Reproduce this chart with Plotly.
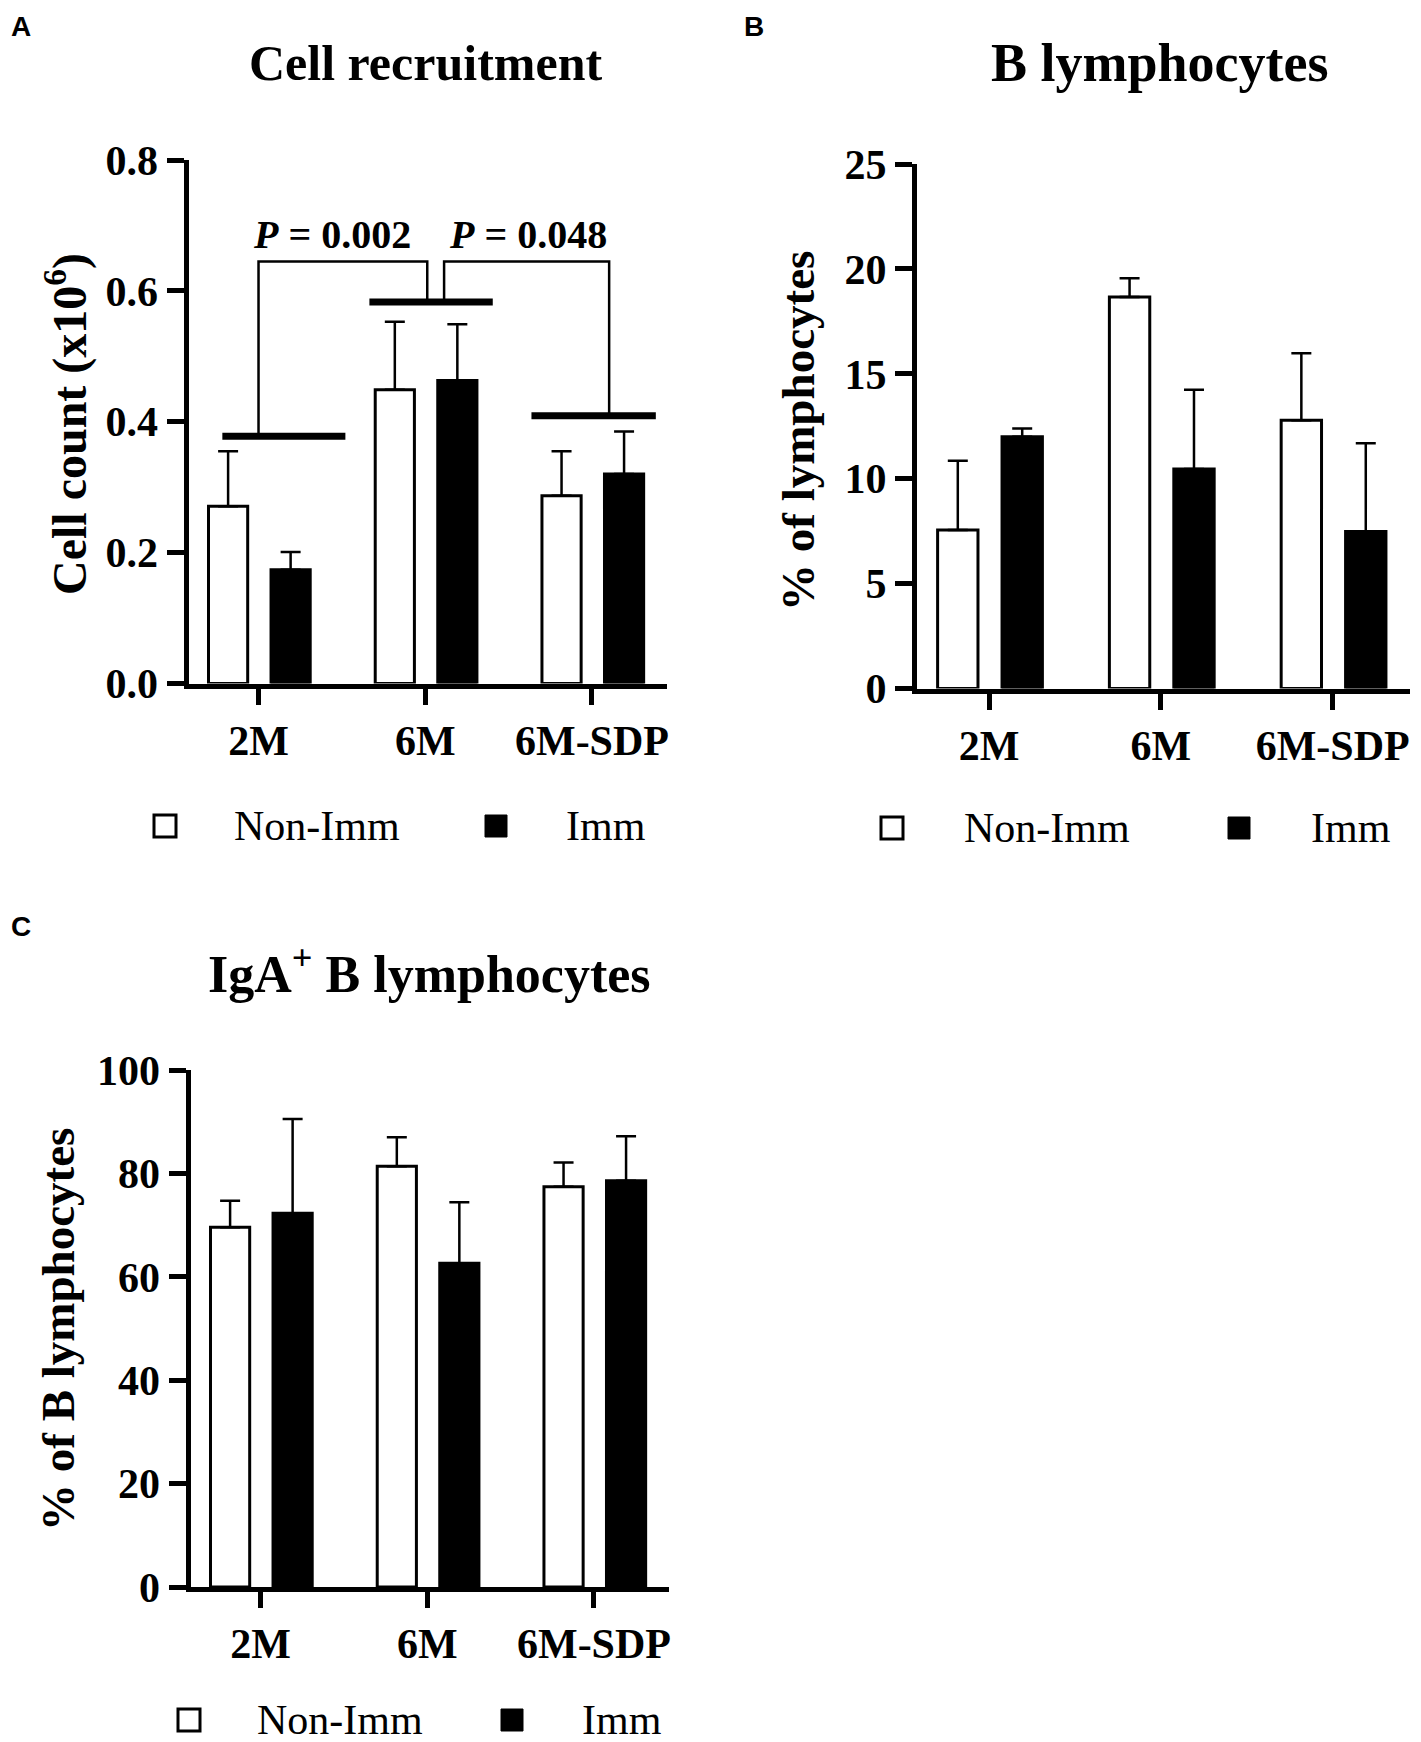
import plotly.graph_objects as go

# ---------------- data ----------------
categories = ["2M", "6M", "6M-SDP"]
series_names = ["Non-Imm", "Imm"]

# Panel A: Cell recruitment (x10^6)
a_non = [0.271, 0.449, 0.287]
a_non_err = [0.084, 0.104, 0.068]
a_imm = [0.174, 0.463, 0.320]
a_imm_err = [0.027, 0.086, 0.065]

# Panel B: B lymphocytes (% of lymphocytes)
b_non = [7.56, 18.66, 12.79]
b_non_err = [3.30, 0.89, 3.19]
b_imm = [12.0, 10.46, 7.48]
b_imm_err = [0.39, 3.78, 4.21]

# Panel C: IgA+ B lymphocytes (% of B lymphocytes)
c_non = [69.6, 81.4, 77.4]
c_non_err = [5.1, 5.6, 4.7]
c_imm = [72.3, 62.6, 78.6]
c_imm_err = [18.2, 11.8, 8.6]

a_ticks = [0, 0.2, 0.4, 0.6, 0.8]
b_ticks = [0, 5, 10, 15, 20, 25]
c_ticks = [0, 20, 40, 60, 80, 100]

p_labels = ["<i>P</i> = 0.002", "<i>P</i> = 0.048"]

# ---------------- layout helpers ----------------
# the page body adds an 8 px margin, so the figure is sized to fill the rest
OFF = 8
FW, FH = 1421 - OFF, 1742 - OFF
def px(x):
    return (x - OFF) / FW
def py(y):
    return 1 - (y - OFF) / FH

SERIF = "Liberation Serif"
BAR_W = 0.235
OFF_NON = -0.30
OFF_IMM = 0.075

fig = go.Figure()

panels = [
    ("x", "y", a_non, a_non_err, a_imm, a_imm_err),
    ("x2", "y2", b_non, b_non_err, b_imm, b_imm_err),
    ("x3", "y3", c_non, c_non_err, c_imm, c_imm_err),
]

for xa, ya, non, non_e, imm, imm_e in panels:
    fig.add_trace(go.Bar(
        x=categories, y=non, xaxis=xa, yaxis=ya, name=series_names[0],
        width=BAR_W, offset=OFF_NON,
        marker=dict(color="white", line=dict(color="black", width=3)),
        error_y=dict(type="data", array=non_e, arrayminus=[0] * len(non_e),
                     symmetric=False, color="black", thickness=2.5, width=10),
        showlegend=False))
    fig.add_trace(go.Bar(
        x=categories, y=imm, xaxis=xa, yaxis=ya, name=series_names[1],
        width=BAR_W, offset=OFF_IMM,
        marker=dict(color="black", line=dict(color="black", width=3)),
        error_y=dict(type="data", array=imm_e, arrayminus=[0] * len(imm_e),
                     symmetric=False, color="black", thickness=2.5, width=10),
        showlegend=False))

tickfont = dict(family=SERIF, size=42, color="black", weight="bold")

def xaxis_cfg(dom, anchor):
    return dict(domain=dom, type="category", range=[-0.42, 2.45], anchor=anchor,
                showline=True, linewidth=5, linecolor="black",
                ticks="outside", tickwidth=5, ticklen=16, tickcolor="black",
                showgrid=False, zeroline=False, tickfont=tickfont,
                ticklabelstandoff=0, automargin=False, fixedrange=True)

def yaxis_cfg(dom, rng, tv, fmt, anchor):
    return dict(domain=dom, range=rng, tickvals=tv, tickformat=fmt, anchor=anchor,
                showline=True, linewidth=5, linecolor="black",
                ticks="outside", tickwidth=5, ticklen=17, tickcolor="black",
                showgrid=False, zeroline=False, tickfont=tickfont,
                automargin=False, fixedrange=True)

fig.update_layout(
    template="none",
    width=FW, height=FH, autosize=False,
    margin=dict(l=0, r=0, t=0, b=0, pad=0, autoexpand=False),
    paper_bgcolor="white", plot_bgcolor="white",
    barmode="overlay", showlegend=False,
    xaxis=xaxis_cfg([px(188.5), px(667)], "y"),
    yaxis=yaxis_cfg([py(683.5), py(160)], [0, 0.8], a_ticks, ".1f", "x"),
    xaxis2=xaxis_cfg([px(917), px(1410)], "y2"),
    yaxis2=yaxis_cfg([py(688.5), py(164)], [0, 25], b_ticks, "d", "x2"),
    xaxis3=xaxis_cfg([px(190.5), px(669)], "y3"),
    yaxis3=yaxis_cfg([py(1587), py(1070)], [0, 100], c_ticks, "d", "x3"),
)

# ---------------- significance brackets (panel A) ----------------
thick = dict(color="black", width=7)
thin = dict(color="black", width=2.5)
sig_bars = [(-0.217, 0.521, 0.378), (0.665, 1.405, 0.583), (1.637, 2.383, 0.409)]
for x0, x1, yv in sig_bars:
    fig.add_shape(type="line", xref="x", yref="y", x0=x0, x1=x1, y0=yv, y1=yv, line=thick)
bracket_top = 0.645
brackets = [(0.0, 0.378, 1.012, 0.583), (1.113, 0.583, 2.103, 0.409)]
for xl, yl, xr, yr in brackets:
    fig.add_shape(type="path", xref="x", yref="y",
                  path=f"M {xl},{yl} L {xl},{bracket_top} L {xr},{bracket_top} L {xr},{yr}",
                  line=thin)
for xc, lab in zip([0.44, 1.615], p_labels):
    fig.add_annotation(xref="x", yref="y", x=xc, y=0.648, yanchor="bottom", xanchor="center",
                       text=lab, showarrow=False,
                       font=dict(family=SERIF, size=40, color="black", weight="bold"))

# ---------------- titles, axis titles, panel letters ----------------
def ann(x, y, text, size, bold=True, family=SERIF, angle=0, xanchor="center"):
    fig.add_annotation(xref="paper", yref="paper", x=px(x), y=py(y), text=text,
                       showarrow=False, textangle=angle, xanchor=xanchor, yanchor="middle",
                       font=dict(family=family, size=size, color="black",
                                 weight="bold" if bold else "normal"))

ann(425, 63, "Cell recruitment", 50)
ann(1160, 63, "B lymphocytes", 54)
ann(429, 970, "IgA<sup>+</sup> B lymphocytes", 52)

ann(66, 424, "Cell count (x10<sup>6</sup>)", 48, angle=-90)
ann(798, 431, "% of lymphocytes", 47, angle=-90)
ann(58, 1330, "% of B lymphocytes", 47, angle=-90)

ann(21, 26, "A", 28, family="Liberation Sans")
ann(754, 26, "B", 28, family="Liberation Sans")
ann(21, 926, "C", 28, family="Liberation Sans")

# ---------------- legends ----------------
SQ = 22
legends = [
    (165, 232, 496, 564, 826),
    (892, 962, 1239, 1309, 828),
    (189, 255, 512, 580, 1720),
]
for sq1, t1, sq2, t2, yc in legends:
    fig.add_shape(type="rect", xref="paper", yref="paper",
                  x0=px(sq1 - SQ / 2), x1=px(sq1 + SQ / 2),
                  y0=py(yc + SQ / 2), y1=py(yc - SQ / 2),
                  line=dict(color="black", width=3), fillcolor="white")
    fig.add_shape(type="rect", xref="paper", yref="paper",
                  x0=px(sq2 - SQ / 2), x1=px(sq2 + SQ / 2),
                  y0=py(yc + SQ / 2), y1=py(yc - SQ / 2),
                  line=dict(color="black", width=1), fillcolor="black")
    ann(t1, yc, series_names[0], 42, bold=False, xanchor="left")
    ann(t2, yc, series_names[1], 42, bold=False, xanchor="left")

fig.write_html("out.html")
